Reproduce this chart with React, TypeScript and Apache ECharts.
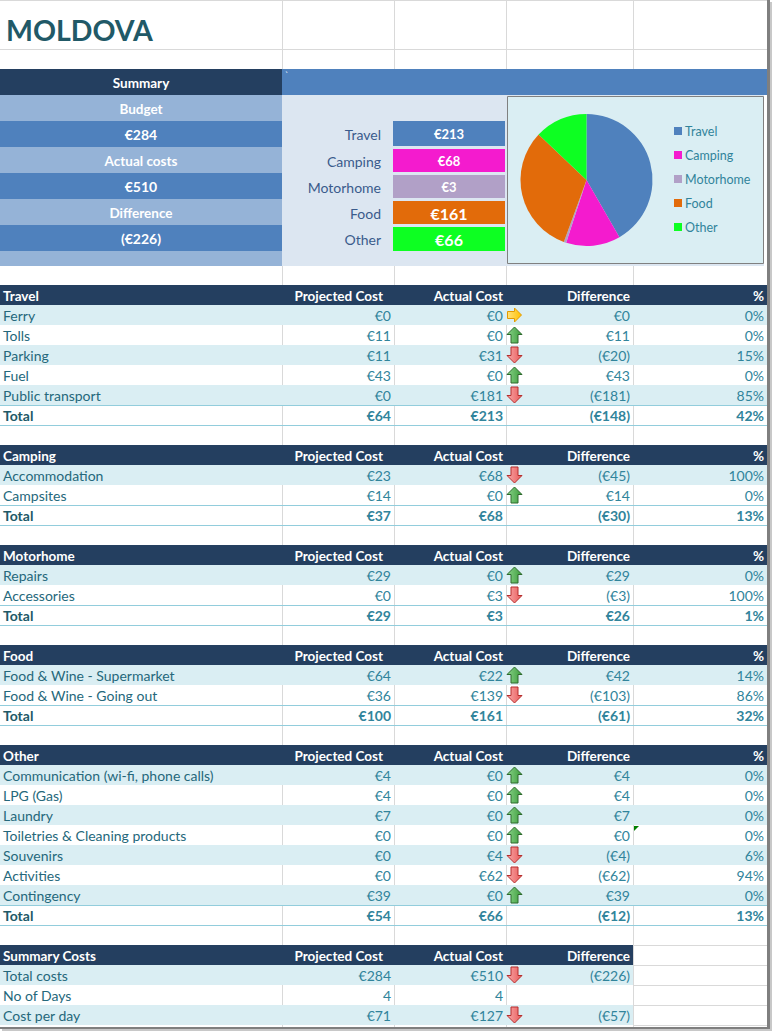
import React, { useEffect, useRef } from "react";
import * as echarts from "echarts";

// ---------- DATA ----------
const pageTitle = "MOLDOVA";
const budgetValue = 284;
const actualValue = 510;
const differenceValue = -226;

const summaryCategories = ["Travel", "Camping", "Motorhome", "Food", "Other"];
const summaryActual = [213, 68, 3, 161, 66];
const summaryColors = ["#4F81BD", "#F41BCE", "#B1A0C7", "#E26B0A", "#0DFF22"];

const travelItems = ["Ferry", "Tolls", "Parking", "Fuel", "Public transport"];
const travelProjected = [0, 11, 11, 43, 0];
const travelActual = [0, 0, 31, 0, 181];
const travelDifference = [0, 11, -20, 43, -181];
const travelPercent = [0, 0, 15, 0, 85];
const travelArrows = ["flat", "up", "down", "up", "down"];
const travelTotals = [64, 213, -148, 42];

const campingItems = ["Accommodation", "Campsites"];
const campingProjected = [23, 14];
const campingActual = [68, 0];
const campingDifference = [-45, 14];
const campingPercent = [100, 0];
const campingArrows = ["down", "up"];
const campingTotals = [37, 68, -30, 13];

const motorhomeItems = ["Repairs", "Accessories"];
const motorhomeProjected = [29, 0];
const motorhomeActual = [0, 3];
const motorhomeDifference = [29, -3];
const motorhomePercent = [0, 100];
const motorhomeArrows = ["up", "down"];
const motorhomeTotals = [29, 3, 26, 1];

const foodItems = ["Food & Wine - Supermarket", "Food & Wine - Going out"];
const foodProjected = [64, 36];
const foodActual = [22, 139];
const foodDifference = [42, -103];
const foodPercent = [14, 86];
const foodArrows = ["up", "down"];
const foodTotals = [100, 161, -61, 32];

const otherItems = [
  "Communication (wi-fi, phone calls)",
  "LPG (Gas)",
  "Laundry",
  "Toiletries & Cleaning products",
  "Souvenirs",
  "Activities",
  "Contingency",
];
const otherProjected = [4, 4, 7, 0, 0, 0, 39];
const otherActual = [0, 0, 0, 0, 4, 62, 0];
const otherDifference = [4, 4, 7, 0, -4, -62, 39];
const otherPercent = [0, 0, 0, 0, 6, 94, 0];
const otherArrows = ["up", "up", "up", "up", "down", "down", "up"];
const otherTotals = [54, 66, -12, 13];

const summaryCostItems = ["Total costs", "No of Days", "Cost per day"];
const summaryCostProjected = [284, 4, 71];
const summaryCostActual = [510, 4, 127];
const summaryCostDifference = [-226, null, -57];
const summaryCostArrows = ["down", null, "down"];
const summaryCostIsCurrency = [true, false, true];

// ---------- STYLE ----------
const FONT = "Lato";
const NAVY = "#243F60";
const LIGHT = "#DAEEF3";
const TEAL = "#31849B";
const LABEL = "#25687B";
const GRID = "#D9D9D9";
const TOTAL_LINE = "#92CDDC";
const DATA_SIZE = 14;
const HEAD_SIZE = 13.5;

const euro = (n: number) => (n < 0 ? `(€${-n})` : `€${n}`);

function txt(text: string, x: number, y: number, opts: any = {}) {
  return {
    type: "text",
    silent: true,
    style: {
      text,
      x,
      y,
      fill: opts.fill || TEAL,
      fontFamily: FONT,
      fontSize: opts.size || DATA_SIZE,
      fontWeight: opts.bold ? "bold" : "normal",
      align: opts.align || "left",
      verticalAlign: "middle",
    },
  };
}
function rect(x: number, y: number, w: number, h: number, fill: string, stroke?: string) {
  return {
    type: "rect",
    silent: true,
    shape: { x, y, width: w, height: h },
    style: stroke ? { fill, stroke, lineWidth: 1 } : { fill },
  };
}
function line(x1: number, y1: number, x2: number, y2: number, stroke: string, lw = 1) {
  return {
    type: "line",
    silent: true,
    shape: { x1, y1, x2, y2 },
    style: { stroke, lineWidth: lw },
  };
}
function grad(c1: string, c2: string) {
  return {
    type: "linear",
    x: 0,
    y: 0,
    x2: 1,
    y2: 0,
    colorStops: [
      { offset: 0, color: c1 },
      { offset: 1, color: c2 },
    ],
  };
}
function arrow(kind: string, cx: number, cy: number) {
  let points: number[][] = [];
  let fill: any;
  let stroke = "";
  if (kind === "up") {
    points = [
      [cx, cy - 8],
      [cx + 7.5, cy - 0.5],
      [cx + 3.5, cy - 0.5],
      [cx + 3.5, cy + 8],
      [cx - 3.5, cy + 8],
      [cx - 3.5, cy - 0.5],
      [cx - 7.5, cy - 0.5],
    ];
    fill = grad("#8AD48A", "#3B9B3B");
    stroke = "#2C6A2C";
  } else if (kind === "down") {
    points = [
      [cx, cy + 8],
      [cx + 7.5, cy + 0.5],
      [cx + 3.5, cy + 0.5],
      [cx + 3.5, cy - 8],
      [cx - 3.5, cy - 8],
      [cx - 3.5, cy + 0.5],
      [cx - 7.5, cy + 0.5],
    ];
    fill = grad("#F9A8A8", "#E85A5A");
    stroke = "#B52E2E";
  } else {
    points = [
      [cx + 7, cy],
      [cx, cy + 7],
      [cx, cy + 3.5],
      [cx - 7, cy + 3.5],
      [cx - 7, cy - 3.5],
      [cx, cy - 3.5],
      [cx, cy - 7],
    ];
    fill = grad("#FFE27A", "#FFC000");
    stroke = "#E39A00";
  }
  return {
    type: "polygon",
    silent: true,
    shape: { points },
    style: { fill, stroke, lineWidth: 1 },
  };
}

// column geometry
const TABLE_RIGHT = 767;
const X_PROJ = 391;
const X_ACT = 503;
const X_ARROW = 514.5;
const X_DIFF = 630;
const X_PCT = 764;
const ROW = 20;

function headerTexts(y0: number, name: string, withPct: boolean) {
  const hy = y0 + 10.5;
  const o = { fill: "#fff", bold: true, size: HEAD_SIZE };
  const els: any[] = [
    txt(name, 3, hy, o),
    txt("Projected Cost", 383, hy, { ...o, align: "right" }),
    txt("Actual Cost", X_ACT, hy, { ...o, align: "right" }),
    txt("Difference", X_DIFF, hy, { ...o, align: "right" }),
  ];
  if (withPct) els.push(txt("%", X_PCT, hy, { ...o, align: "right" }));
  return els;
}

function section(
  y0: number,
  name: string,
  items: string[],
  proj: number[],
  act: number[],
  diff: number[],
  pct: number[],
  arrows: string[],
  totals: number[]
) {
  const els: any[] = [];
  els.push(rect(0, y0, TABLE_RIGHT, ROW, NAVY));
  els.push(...headerTexts(y0, name, true));
  items.forEach((it, i) => {
    const y = y0 + ROW * (i + 1);
    if (i % 2 === 0) els.push(rect(0, y, TABLE_RIGHT, ROW, LIGHT));
    const cy = y + 10.5;
    els.push(txt(it, 3, cy, { fill: LABEL }));
    els.push(txt(euro(proj[i]), X_PROJ, cy, { align: "right" }));
    els.push(txt(euro(act[i]), X_ACT, cy, { align: "right" }));
    els.push(arrow(arrows[i], X_ARROW, y + 10));
    els.push(txt(euro(diff[i]), X_DIFF, cy, { align: "right" }));
    els.push(txt(`${pct[i]}%`, X_PCT, cy, { align: "right" }));
  });
  const ty = y0 + ROW * (items.length + 1);
  els.push(line(0, ty + 0.5, TABLE_RIGHT, ty + 0.5, TOTAL_LINE));
  els.push(line(0, ty + 20.5, TABLE_RIGHT, ty + 20.5, TOTAL_LINE));
  const tcy = ty + 10.5;
  els.push(txt("Total", 3, tcy, { fill: "#215967", bold: true }));
  els.push(txt(euro(totals[0]), X_PROJ, tcy, { bold: true, align: "right" }));
  els.push(txt(euro(totals[1]), X_ACT, tcy, { bold: true, align: "right" }));
  els.push(txt(euro(totals[2]), X_DIFF, tcy, { bold: true, align: "right" }));
  els.push(txt(`${totals[3]}%`, X_PCT, tcy, { bold: true, align: "right" }));
  return els;
}

function buildGraphics() {
  const els: any[] = [];
  // gridlines
  [282.5, 394.5, 506.5, 633.5].forEach((x) => els.push(line(x, 0, x, 1027, GRID)));
  [0.5, 49.5].forEach((y) => els.push(line(0, y, 767, y, GRID)));

  // title
  els.push(txt(pageTitle, 6, 30, { fill: "#215967", size: 28.5, bold: true }));

  // summary block (left)
  const leftRows = [
    { y: 69, h: 26, fill: NAVY, text: "Summary", size: 13.5 },
    { y: 95, h: 26, fill: "#95B3D7", text: "Budget", size: 13.5 },
    { y: 121, h: 26, fill: "#4F81BD", text: euro(budgetValue), size: 14 },
    { y: 147, h: 26, fill: "#95B3D7", text: "Actual costs", size: 13.5 },
    { y: 173, h: 26, fill: "#4F81BD", text: euro(actualValue), size: 14 },
    { y: 199, h: 26, fill: "#95B3D7", text: "Difference", size: 13.5 },
    { y: 225, h: 26, fill: "#4F81BD", text: euro(differenceValue), size: 14 },
    { y: 251, h: 15, fill: "#95B3D7", text: "", size: 13 },
  ];
  leftRows.forEach((r) => {
    els.push(rect(0, r.y, 282, r.h, r.fill));
    if (r.text) els.push(txt(r.text, 141, r.y + r.h / 2 + 0.5, { fill: "#fff", bold: true, size: r.size, align: "center" }));
  });
  // right band
  els.push(rect(282, 69, 485, 26, "#4F81BD"));
  els.push(txt("`", 285, 75, { fill: "#fff", size: 9 }));
  els.push(rect(282, 95, 482, 171, "#DCE6F1"));

  // category boxes
  const boxY = [121, 149, 175, 201, 227];
  const boxH = [25, 23, 23, 23, 24];
  summaryCategories.forEach((c, i) => {
    const cy = boxY[i] + boxH[i] / 2 + 0.5;
    els.push(txt(c, 381, cy, { fill: "#3A5B8C", size: 14, align: "right" }));
    els.push(rect(393, boxY[i], 112, boxH[i], summaryColors[i]));
    const big = i >= 3;
    els.push(txt(euro(summaryActual[i]), 449, cy, { fill: "#fff", bold: true, size: big ? 16 : 13, align: "center" }));
  });

  // chart box
  els.push(rect(507.5, 96.5, 256, 167, LIGHT, "#808080"));

  // sections
  els.push(...section(285, "Travel", travelItems, travelProjected, travelActual, travelDifference, travelPercent, travelArrows, travelTotals));
  els.push(...section(445, "Camping", campingItems, campingProjected, campingActual, campingDifference, campingPercent, campingArrows, campingTotals));
  els.push(...section(545, "Motorhome", motorhomeItems, motorhomeProjected, motorhomeActual, motorhomeDifference, motorhomePercent, motorhomeArrows, motorhomeTotals));
  els.push(...section(645, "Food", foodItems, foodProjected, foodActual, foodDifference, foodPercent, foodArrows, foodTotals));
  els.push(...section(745, "Other", otherItems, otherProjected, otherActual, otherDifference, otherPercent, otherArrows, otherTotals));

  // comment marker (Toiletries row, column E)
  els.push({
    type: "polygon",
    silent: true,
    shape: { points: [[634, 826], [639, 826], [634, 831]] },
    style: { fill: "#008000" },
  });

  // summary costs
  const sy = 945;
  els.push(rect(0, sy, 633, ROW, NAVY));
  els.push(...headerTexts(sy, "Summary Costs", false));
  [945.5, 965.5, 985.5, 1005.5, 1025.5].forEach((y) => els.push(line(633, y, 767, y, GRID)));
  summaryCostItems.forEach((it, i) => {
    const y = sy + ROW * (i + 1);
    if (i % 2 === 0) els.push(rect(0, y, 633, ROW, LIGHT));
    const cy = y + 10.5;
    const f = (n: number) => (summaryCostIsCurrency[i] ? euro(n) : `${n}`);
    els.push(txt(it, 3, cy, { fill: LABEL }));
    els.push(txt(f(summaryCostProjected[i]), X_PROJ, cy, { align: "right" }));
    els.push(txt(f(summaryCostActual[i]), X_ACT, cy, { align: "right" }));
    const a = summaryCostArrows[i];
    if (a) els.push(arrow(a, X_ARROW, y + 10));
    const d = summaryCostDifference[i];
    if (d !== null) els.push(txt(euro(d as number), X_DIFF, cy, { align: "right" }));
  });

  // page shadow
  els.push(rect(767, 0, 3, 1029, "#7F7F7F"));
  els.push(rect(770, 2, 2, 1029, "#C8C8C8"));
  els.push(rect(0, 1027, 770, 2, "#7F7F7F"));
  els.push(rect(2, 1029, 770, 2, "#C8C8C8"));
  return els;
}

export default function App() {
  const ref = useRef<HTMLDivElement>(null);
  useEffect(() => {
    document.body.style.margin = "0";
    if (!ref.current) return;
    const chart = echarts.init(ref.current, null, { renderer: "svg" });
    chart.setOption({
      animation: false,
      backgroundColor: "#FFFFFF",
      graphic: { elements: buildGraphics() },
      legend: {
        orient: "vertical",
        left: 674,
        top: 124,
        padding: 0,
        itemWidth: 8,
        itemHeight: 8,
        itemGap: 10,
        icon: "rect",
        selectedMode: false,
        textStyle: { color: TEAL, fontSize: 12.5, fontFamily: FONT, lineHeight: 14, padding: [0, 0, 0, -2] },
        data: summaryCategories,
      },
      series: [
        {
          type: "pie",
          center: [586.5, 180],
          radius: 66,
          startAngle: 90,
          clockwise: true,
          label: { show: false },
          labelLine: { show: false },
          emphasis: { disabled: true },
          itemStyle: { borderWidth: 0 },
          data: summaryCategories.map((c, i) => ({
            name: c,
            value: summaryActual[i],
            itemStyle: { color: summaryColors[i] },
          })),
        },
      ],
    });
    return () => chart.dispose();
  }, []);
  return <div ref={ref} style={{ width: 772, height: 1031 }} />;
}
